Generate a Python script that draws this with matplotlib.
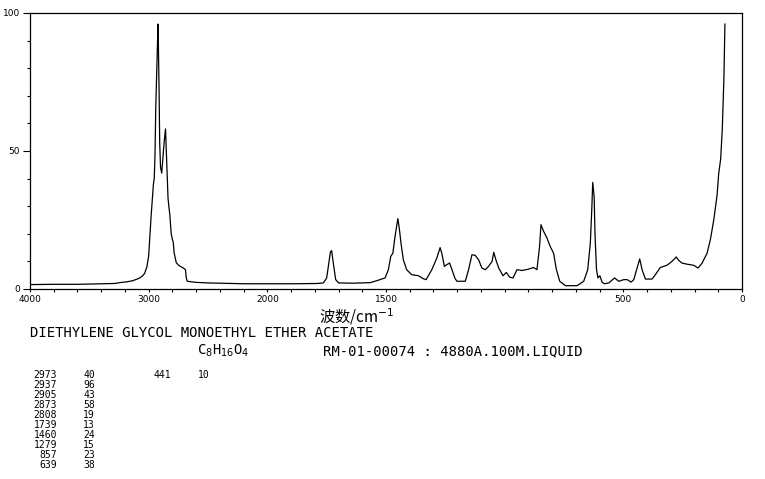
import numpy as np
import matplotlib
matplotlib.use("Agg")
import matplotlib.pyplot as plt
from matplotlib.ticker import FixedLocator, NullFormatter

# spectrum (wavenumber cm-1, intensity)
wavenumber = [4000, 3800, 3600, 3400, 3285, 3245, 3185, 3135, 3085, 3055,
              3035, 3015, 3000, 2990, 2980, 2970, 2960, 2953, 2947, 2940,
              2933, 2925, 2922, 2918, 2913, 2907, 2900, 2890, 2883, 2870,
              2858, 2851, 2843, 2837, 2830, 2822, 2810, 2800, 2793, 2785,
              2775, 2767, 2745, 2725, 2705, 2690, 2683, 2675, 2600, 2500,
              2400, 2300, 2200, 2100, 2000, 1889, 1789, 1764, 1750, 1743,
              1734, 1729, 1722, 1712, 1700, 1639, 1567, 1539, 1504, 1490,
              1480, 1471, 1462, 1450, 1444, 1437, 1427, 1413, 1392, 1363,
              1342, 1331, 1307, 1286, 1272, 1265, 1254, 1244, 1232, 1218,
              1209, 1201, 1166, 1152, 1138, 1124, 1110, 1096, 1082, 1068,
              1053, 1046, 1037, 1025, 1007, 993, 979, 965, 948, 927,
              899, 878, 864, 853, 847, 836, 822, 808, 794, 782,
              768, 744, 695, 667, 650, 639, 633, 629, 623, 619,
              613, 607, 599, 589, 579, 561, 537, 519, 498, 484,
              467, 456, 442, 431, 421, 407, 379, 365, 344, 316,
              295, 277, 267, 253, 232, 204, 185, 168, 147, 133,
              119, 105, 98, 90, 83, 76, 72]
intensity = [1.6, 1.7, 1.7, 1.9, 2.0, 2.3, 2.6, 3.0, 3.8, 4.6,
             5.6, 8.0, 12.0, 19.0, 26.0, 32.0, 38.0, 40.0, 48.0, 66.0,
             77.0, 90.0, 96.0, 88.0, 74.0, 53.0, 44.0, 42.0, 46.0, 53.0,
             58.0, 50.0, 40.0, 33.0, 30.0, 27.0, 20.0, 18.0, 17.0, 13.0,
             11.0, 9.5, 8.5, 8.0, 7.5, 7.0, 4.0, 2.8, 2.4, 2.2,
             2.1, 2.0, 1.9, 1.9, 1.9, 1.9, 2.0, 2.2, 4.0, 8.2,
             13.5, 13.9, 9.4, 3.4, 2.2, 2.1, 2.3, 3.0, 4.0, 7.0,
             11.8, 13.0, 19.0, 25.5, 22.0, 16.7, 10.6, 7.0, 5.2, 4.8,
             3.7, 3.4, 7.0, 11.2, 15.0, 13.0, 8.2, 8.8, 9.4, 6.0,
             3.8, 2.8, 2.8, 7.0, 12.4, 12.2, 10.6, 7.6, 7.0, 8.2,
             10.0, 13.3, 10.6, 7.6, 4.8, 6.0, 4.3, 4.0, 7.0, 6.7,
             7.2, 7.8, 7.0, 15.4, 23.3, 20.9, 18.5, 15.4, 13.0, 7.0,
             2.8, 1.2, 1.2, 2.8, 7.0, 16.7, 28.7, 38.6, 33.5, 19.0,
             7.0, 4.0, 4.8, 2.4, 1.9, 2.2, 4.0, 2.8, 3.4, 3.4,
             2.5, 3.4, 7.6, 10.9, 7.0, 3.6, 3.6, 5.2, 7.8, 8.6,
             10.0, 11.6, 10.4, 9.4, 9.0, 8.6, 7.6, 9.4, 13.0, 18.0,
             25.0, 34.0, 42.0, 47.0, 58.0, 77.0, 96.0]

peak_pos = ["2973", "2937", "2905", "2873", "2808", "1739", "1460", "1279", "857", "639"]
peak_int = ["40", "96", "43", "58", "19", "13", "24", "15", "23", "38"]
peak_pos2 = ["441"]
peak_int2 = ["10"]

x_major = [4000, 3000, 2000, 1500, 500, 0]
x_labels = ["4000", "3000", "2000", "1500", "500", "0"]


# axis is compressed 2x above 2000 cm-1
def fwd(w):
    w = np.asarray(w, dtype=float)
    return np.where(w >= 2000, (w - 2000) / 1000, (w - 2000) / 500)


def inv(p):
    p = np.asarray(p, dtype=float)
    return np.where(p >= 0, 2000 + 1000 * p, 2000 + 500 * p)


W, H = 765, 479
fig = plt.figure(figsize=(7.65, 4.79), dpi=100)
ax = fig.add_axes([30 / W, 1 - 289 / H, 712 / W, 276 / H])
ax.set_xscale('function', functions=(fwd, inv))
ax.plot(wavenumber, intensity, color='black', lw=0.9)
ax.set_xlim(4000, 0)
ax.set_ylim(0, 100)

minor_x = list(range(4000, 2000, -200)) + list(range(2000, -1, -100))
ax.xaxis.set_major_locator(FixedLocator(x_major))
ax.xaxis.set_minor_locator(FixedLocator(minor_x))
ax.set_xticklabels(x_labels)
ax.xaxis.set_minor_formatter(NullFormatter())
ax.set_yticks([0, 50, 100])
ax.set_yticklabels(["0", "50", "100"])
ax.yaxis.set_minor_locator(FixedLocator(list(range(0, 101, 10))))

ax.tick_params(axis='x', which='both', direction='out', length=2.5, width=0.8,
               labelsize=6.5, pad=2)
ax.tick_params(axis='y', which='major', direction='out', length=5, width=0.8,
               labelsize=6.5, pad=2)
ax.tick_params(axis='y', which='minor', direction='out', length=2, width=0.8)
for s in ax.spines.values():
    s.set_linewidth(0.9)

cjk = ['Noto Sans CJK SC', 'DejaVu Sans']
fig.text(357 / W, 1 - 317 / H, '波数/cm$^{-1}$', family=cjk, fontsize=11,
         ha='center', va='center')

mono = 'DejaVu Sans Mono'
fig.text(30 / W, 1 - 333 / H, 'DIETHYLENE GLYCOL MONOETHYL ETHER ACETATE',
         family=mono, fontsize=10, va='center')
fig.text(197 / W, 1 - 351 / H, r'C$_8$H$_{16}$O$_4$', family=mono,
         fontsize=10, va='center')
fig.text(323 / W, 1 - 351 / H, 'RM-01-00074 : 4880A.100M.LIQUID',
         family=mono, fontsize=10, va='center')

for i in range(len(peak_pos)):
    y = 1 - (375 + 10 * i) / H
    fig.text(57 / W, y, peak_pos[i], family=mono, fontsize=7, ha='right', va='center')
    fig.text(95 / W, y, peak_int[i], family=mono, fontsize=7, ha='right', va='center')
for i in range(len(peak_pos2)):
    y = 1 - (375 + 10 * i) / H
    fig.text(171 / W, y, peak_pos2[i], family=mono, fontsize=7, ha='right', va='center')
    fig.text(210 / W, y, peak_int2[i], family=mono, fontsize=7, ha='right', va='center')

fig.savefig('out.png', dpi=100)
